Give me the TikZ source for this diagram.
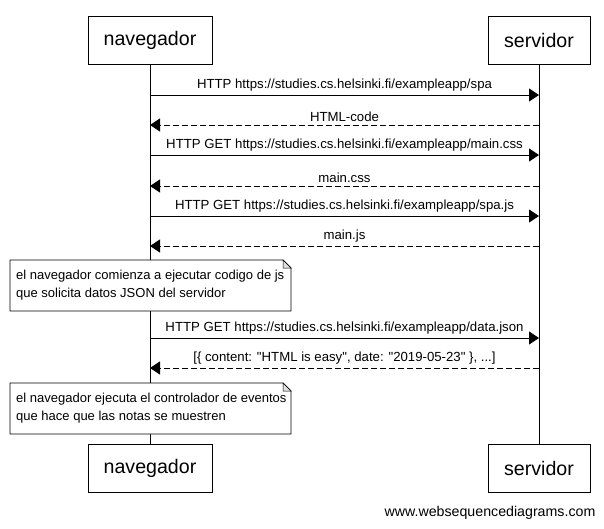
\documentclass[tikz,border=0pt]{standalone}
\usepackage{fontspec}
\setmainfont{Liberation Sans}
\newfontfamily\plainsans{Liberation Sans}
\usetikzlibrary{arrows.meta}
\begin{document}
\begin{tikzpicture}[x=1pt,y=-1pt,
  actor/.style={draw,line width=0.8pt,minimum height=48pt,inner sep=0pt,font=\fontsize{19.6}{22}\selectfont},
  lifeline/.style={line width=0.8pt},
  msg/.style={line width=0.8pt,-{Triangle[length=10pt,width=13pt]}},
  reply/.style={msg,dash pattern=on 6pt off 3pt},
  lbl/.style={font=\plainsans\fontsize{13.2}{15}\selectfont,inner sep=0pt},
  notetext/.style={font=\fontsize{13}{18}\selectfont,align=left,inner sep=0pt,anchor=north west}
]
\useasboundingbox (0,0) rectangle (604,528);
\fill[white] (0,0) rectangle (604,528);
% actors
\node[actor,minimum width=124pt] (nt) at (150,40) {navegador};
\node[actor,minimum width=102pt] (st) at (539,40) {servidor};
\node[actor,minimum width=124pt] (nb) at (150,468) {navegador};
\node[actor,minimum width=102pt] (sb) at (539,468) {servidor};
\draw[lifeline] (nt.south) -- (nb.north);
\draw[lifeline] (st.south) -- (sb.north);
% message coordinates
\foreach \n/\y in {1/95,2/125,3/155,4/186,5/216,6/246,7/338,8/368}{
  \coordinate (a\n) at (150,\y);
  \coordinate (b\n) at (539,\y);
}
\draw[msg] (a1) -- node[lbl,above=3pt]{HTTP https://studies.cs.helsinki.fi/exampleapp/spa} (b1);
\draw[reply] (b2) -- node[lbl,above=3pt]{HTML-code} (a2);
\draw[msg] (a3) -- node[lbl,above=3pt]{HTTP GET https://studies.cs.helsinki.fi/exampleapp/main.css} (b3);
\draw[reply] (b4) -- node[lbl,above=3pt]{main.css} (a4);
\draw[msg] (a5) -- node[lbl,above=3pt]{HTTP GET https://studies.cs.helsinki.fi/exampleapp/spa.js} (b5);
\draw[reply] (b6) -- node[lbl,above=3pt]{main.js} (a6);
\draw[msg] (a7) -- node[lbl,above=3pt]{HTTP GET https://studies.cs.helsinki.fi/exampleapp/data.json} (b7);
\draw[reply] (b8) -- node[lbl,above=3pt]{[\{ content: "HTML is easy", date: "2019-05-23" \}, ...]} (a8);
% notes
\foreach \t/\nm in {260/n1,383/n2}{
  \filldraw[fill=white,line width=0.8pt] (10,\t) -- (283,\t) -- (291,\t+8) -- (291,\t+51) -- (10,\t+51) -- cycle;
  \filldraw[fill=black!12,line width=0.5pt] (283,\t) -- (283,\t+8) -- (291,\t+8) -- cycle;
}
\node[notetext] (t1) at (16,270) {el navegador comienza a ejecutar codigo de js\\que solicita datos JSON del servidor};
\node[notetext] (t2) at (16,393) {el navegador ejecuta el controlador de eventos\\que hace que las notas se muestren};
\node[font=\fontsize{14.2}{16}\selectfont,inner sep=0pt] (wm) at (490,513) {www.websequencediagrams.com};
\end{tikzpicture}
\end{document}
